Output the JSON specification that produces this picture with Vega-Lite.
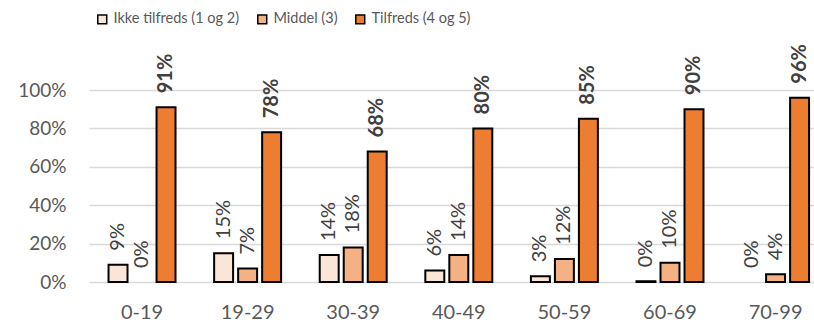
{
  "$schema": "https://vega.github.io/schema/vega-lite/v6.json",
  "autosize": "none",
  "width": 725,
  "height": 192,
  "padding": {"left": 89, "top": 90, "right": 0, "bottom": 43},
  "background": "white",
  "config": {
    "view": {"stroke": null},
    "font": "Lato"
  },
  "data": {
    "values": [
      {"g": "0-19", "s": "Ikke tilfreds (1 og 2)", "v": 0.09},
      {"g": "0-19", "s": "Middel (3)", "v": 0},
      {"g": "0-19", "s": "Tilfreds (4 og 5)", "v": 0.91},
      {"g": "19-29", "s": "Ikke tilfreds (1 og 2)", "v": 0.15},
      {"g": "19-29", "s": "Middel (3)", "v": 0.07},
      {"g": "19-29", "s": "Tilfreds (4 og 5)", "v": 0.78},
      {"g": "30-39", "s": "Ikke tilfreds (1 og 2)", "v": 0.14},
      {"g": "30-39", "s": "Middel (3)", "v": 0.18},
      {"g": "30-39", "s": "Tilfreds (4 og 5)", "v": 0.68},
      {"g": "40-49", "s": "Ikke tilfreds (1 og 2)", "v": 0.06},
      {"g": "40-49", "s": "Middel (3)", "v": 0.14},
      {"g": "40-49", "s": "Tilfreds (4 og 5)", "v": 0.80},
      {"g": "50-59", "s": "Ikke tilfreds (1 og 2)", "v": 0.03},
      {"g": "50-59", "s": "Middel (3)", "v": 0.12},
      {"g": "50-59", "s": "Tilfreds (4 og 5)", "v": 0.85},
      {"g": "60-69", "s": "Ikke tilfreds (1 og 2)", "v": 0.004},
      {"g": "60-69", "s": "Middel (3)", "v": 0.10},
      {"g": "60-69", "s": "Tilfreds (4 og 5)", "v": 0.90},
      {"g": "70-99", "s": "Ikke tilfreds (1 og 2)", "v": 0},
      {"g": "70-99", "s": "Middel (3)", "v": 0.04},
      {"g": "70-99", "s": "Tilfreds (4 og 5)", "v": 0.96}
    ]
  },
  "encoding": {
    "x": {
      "field": "g", "type": "nominal", "sort": null, "title": null,
      "scale": {"paddingInner": 0.318, "paddingOuter": 0.092, "align": 0.876},
      "axis": {"labelAngle": 0, "ticks": false, "domain": false, "labelPadding": 20, "labelFontSize": 20, "labelColor": "#595959"}
    },
    "xOffset": {
      "field": "s", "type": "nominal",
      "sort": ["Ikke tilfreds (1 og 2)", "Middel (3)", "Tilfreds (4 og 5)"],
      "scale": {"paddingInner": 0.21, "paddingOuter": 0.105}
    },
    "y": {
      "field": "v", "type": "quantitative", "title": null,
      "scale": {"domain": [0, 1], "nice": false},
      "axis": {"values": [0, 0.2, 0.4, 0.6, 0.8, 1], "format": ".0%", "ticks": false, "domain": false,
        "labelPadding": 23, "labelFontSize": 19, "labelColor": "#595959",
        "gridColor": "#d9d9d9", "gridWidth": 1.5}
    }
  },
  "layer": [
    {
      "mark": {"type": "bar", "stroke": "black"},
      "encoding": {
        "color": {
          "field": "s", "type": "nominal", "title": null,
          "scale": {"domain": ["Ikke tilfreds (1 og 2)", "Middel (3)", "Tilfreds (4 og 5)"], "range": ["#FBE5D6", "#F4B183", "#ED7D31"]},
          "legend": {
            "orient": "none", "legendX": 6, "legendY": -78, "direction": "horizontal",
            "symbolType": "square", "symbolSize": 80, "symbolStrokeColor": "black", "symbolStrokeWidth": 1.5,
            "labelFontSize": 14.5, "labelColor": "#595959", "labelOffset": 4, "columnPadding": 14, "padding": 0
          }
        },
        "strokeWidth": {"condition": {"test": "datum.v === 0", "value": 0}, "value": 2}
      }
    },
    {
      "transform": [{"filter": "datum.s !== 'Tilfreds (4 og 5)'"}],
      "mark": {"type": "text", "angle": -90, "align": "left", "baseline": "middle", "dx": 14, "fontSize": 20, "color": "#404040"},
      "encoding": {
        "text": {"field": "v", "type": "quantitative", "format": ".0%"}
      }
    },
    {
      "transform": [{"filter": "datum.s === 'Tilfreds (4 og 5)'"}],
      "mark": {"type": "text", "angle": -90, "align": "left", "baseline": "middle", "dx": 14, "fontSize": 20, "fontWeight": "bold", "color": "#404040"},
      "encoding": {
        "text": {"field": "v", "type": "quantitative", "format": ".0%"}
      }
    }
  ]
}
